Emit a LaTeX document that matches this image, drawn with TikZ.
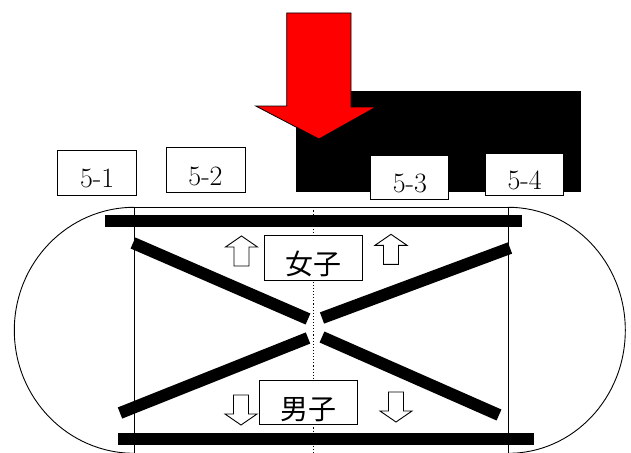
\documentclass[tikz,border=0pt]{standalone}
\usepackage{fontspec}
\newfontfamily\jfont{Noto Sans CJK JP}
\begin{document}
\begin{tikzpicture}[x=1pt,y=-1pt,
  thinline/.style={line width=0.9pt},
  bar/.style={line width=12pt},
  numbox/.style={draw, line width=0.9pt, fill=white, inner sep=0pt,
    text height=30.5pt, text depth=0pt, font=\fontsize{28}{30}\selectfont},
  jbox/.style={draw, line width=0.9pt, fill=white, inner sep=0pt,
    minimum width=98pt, minimum height=44.5pt,
    text height=33pt, text depth=0pt, font=\jfont\fontsize{28}{30}\selectfont},
  hollowup/.pic={\draw[line width=0.9pt, fill=white]
    (-7.5,0) -- (-7.5,-19) -- (-16,-19) -- (0,-30) -- (16,-19) -- (7.5,-19) -- (7.5,0) -- cycle;},
  hollowdown/.pic={\draw[line width=0.9pt, fill=white]
    (-7.5,0) -- (-7.5,19) -- (-16,19) -- (0,30) -- (16,19) -- (7.5,19) -- (7.5,0) -- cycle;}
]
\clip (0,0) rectangle (631,452);
\fill[white] (0,0) rectangle (631,452);

% black block and red arrow
\fill[black] (295.7,91) rectangle (581,192);
\draw[line width=0.8pt, fill=red]
  (286.7,13) -- (351,13) -- (351,107) -- (376,107) -- (319,139) -- (255.7,106) -- (286.7,106) -- cycle;

% track outline
\coordinate (tl) at (134.3,207.3);
\coordinate (tr) at (508.3,207.3);
\coordinate (bl) at (134.3,460);
\coordinate (br) at (508.3,460);
\draw[thinline] (tl) -- (tr);
\draw[thinline] (tl) -- (bl);
\draw[thinline] (tr) -- (br);
\draw[thinline] (tl) arc[start angle=-90, end angle=-270, x radius=120, y radius=123];
\draw[thinline] (tr) arc[start angle=-90, end angle=90, x radius=117, y radius=123];
\coordinate (mt) at (313.3,207.3);
\coordinate (mb) at (313.3,460);
\draw[line width=1.1pt, dash pattern=on 1.1pt off 2pt] (mt) -- (mb);

% thick bars
\draw[bar] (105,221) -- (521.7,221);
\draw[bar] (118,439) -- (534,439);
\draw[bar] (133,243) -- (308,319);
\draw[bar] (120,413) -- (308,338);
\draw[bar] (322,318) -- (510,248);
\draw[bar] (322,337) -- (499,415);

% labels 5-x
\node[numbox, minimum width=79pt, minimum height=45pt] (b1) at (97.2,172.5) {5-1};
\node[numbox, minimum width=79pt, minimum height=45.4pt] (b2) at (205.5,170) {5-2};
\node[numbox, minimum width=78pt, minimum height=43.3pt] (b3) at (409.9,177.4) {5-3};
\node[numbox, minimum width=78pt, minimum height=41.7pt] (b4) at (524.7,174.2) {5-4};

% girls / boys
\node[jbox] (girls) at (313.8,258) {女子};
\node[jbox] (boys) at (308.5,402.5) {男子};

% hollow arrows
\pic (ua1) at (241.5,266) {hollowup};
\pic (ua2) at (391,264.3) {hollowup};
\pic (da1) at (241,395) {hollowdown};
\pic (da2) at (396,392) {hollowdown};
\end{tikzpicture}
\end{document}
